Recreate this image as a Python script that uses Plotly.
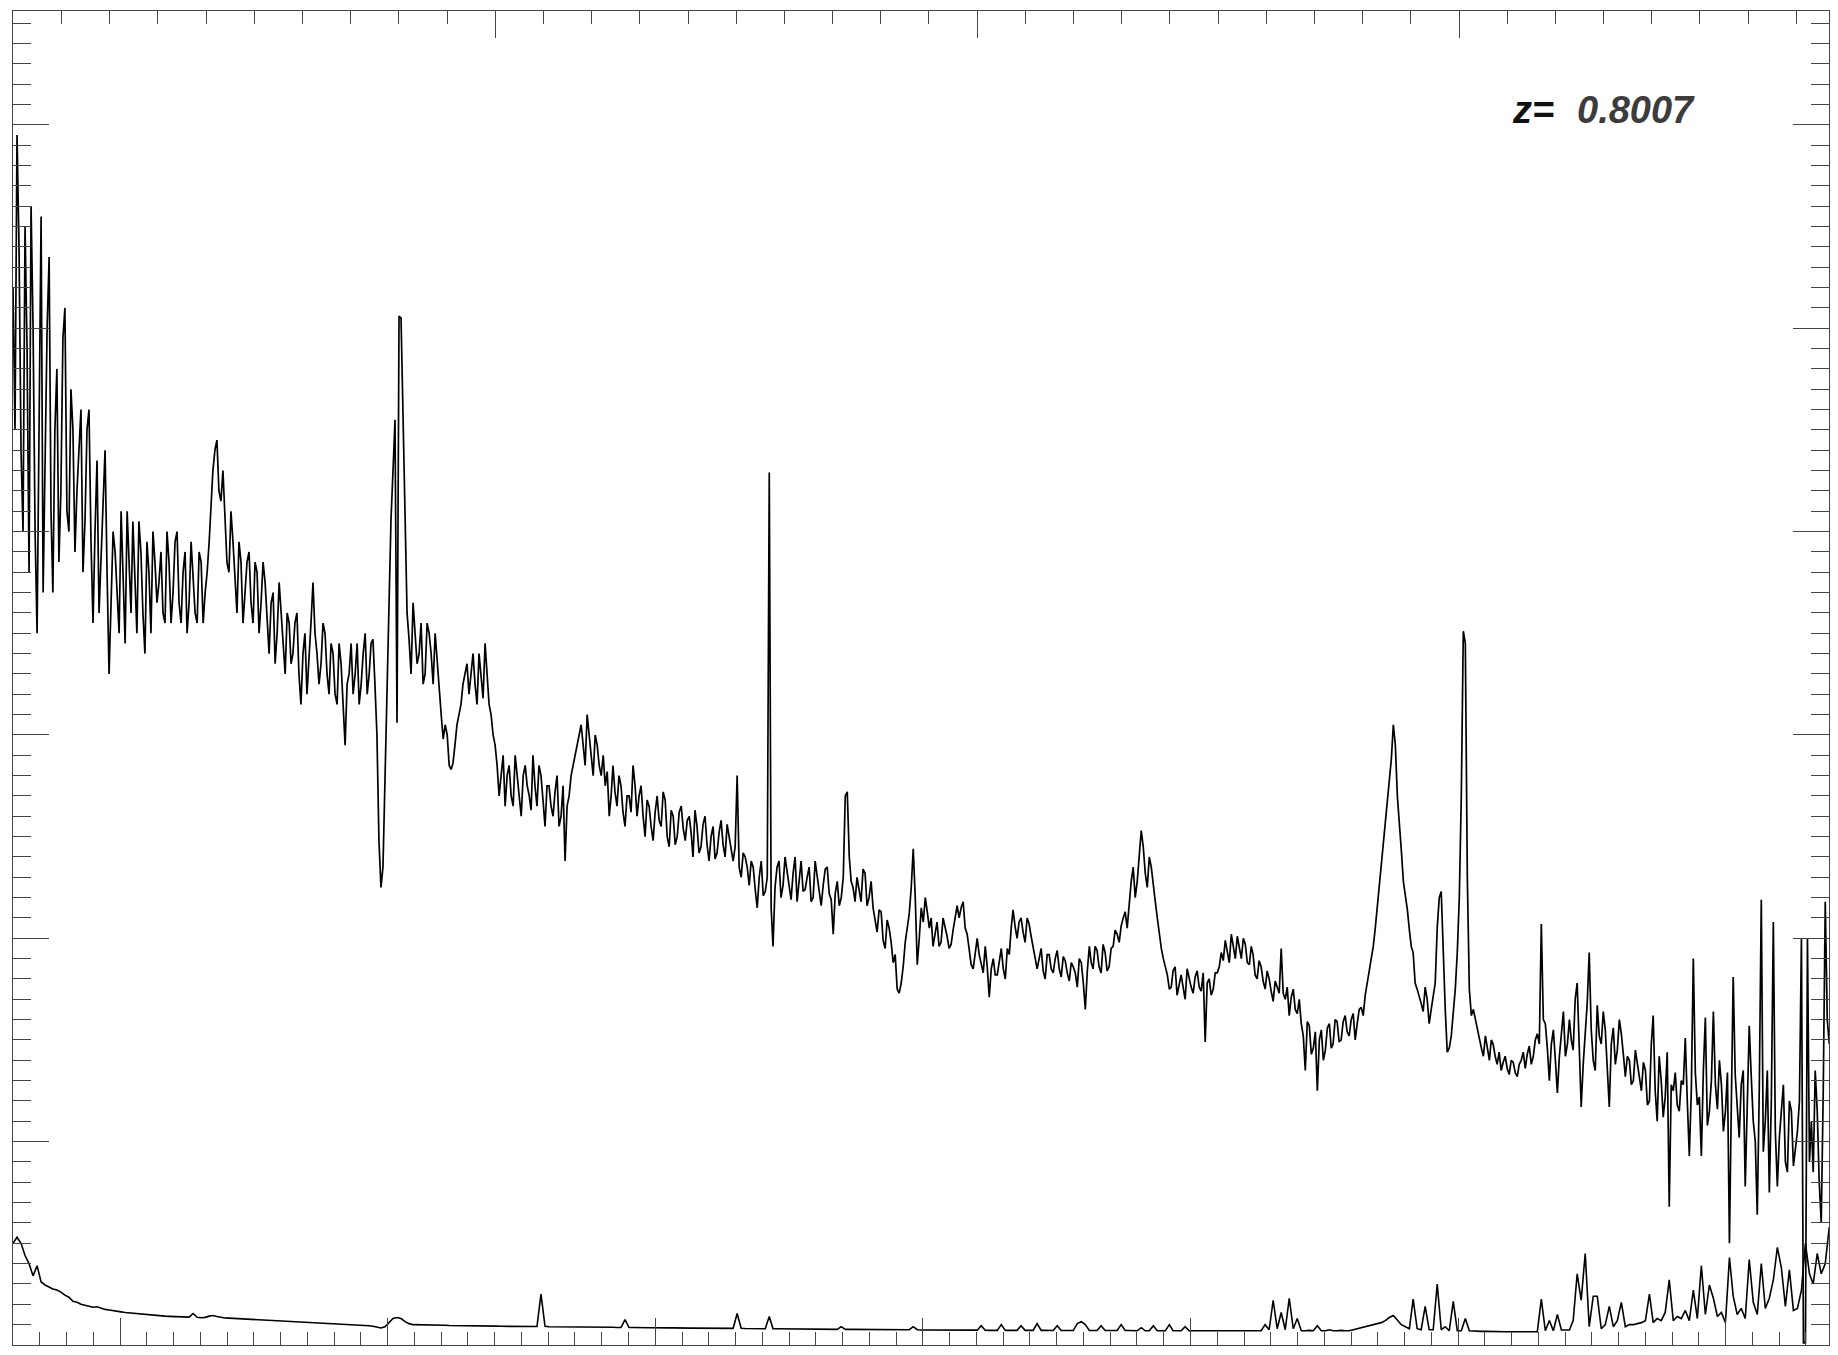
import plotly.graph_objects as go

z = 0.8007

# observed wavelength (Angstrom) of the main samples
lam = [
    3600, 3615, 3630, 3645, 3660, 3675, 3690, 3705, 3720, 3735,
    3749, 3764, 3779, 3794, 3809, 3824, 3839, 3854, 3869, 3884,
    3899, 3914, 3929, 3944, 3959, 3974, 3989, 4004, 4019, 4034,
    4048, 4063, 4078, 4093, 4108, 4123, 4138, 4153, 4168, 4183,
    4198, 4213, 4228, 4243, 4258, 4273, 4288, 4303, 4318, 4333,
    4347, 4362, 4377, 4392, 4407, 4422, 4437, 4452, 4467, 4482,
    4497, 4512, 4527, 4542, 4557, 4572, 4587, 4602, 4617, 4632,
    4646, 4661, 4676, 4691, 4706, 4721, 4736, 4751, 4766, 4781,
    4796, 4811, 4826, 4841, 4856, 4871, 4886, 4901, 4916, 4931,
    4945, 4960, 4975, 4990, 5005, 5020, 5035, 5050, 5065, 5080,
    5095, 5110, 5125, 5140, 5155, 5170, 5185, 5200, 5215, 5230,
    5244, 5259, 5274, 5289, 5304, 5319, 5334, 5349, 5364, 5379,
    5394, 5409, 5424, 5439, 5454, 5469, 5484, 5499, 5514, 5529,
    5543, 5558, 5573, 5588, 5603, 5618, 5633, 5648, 5663, 5678,
    5693, 5708, 5723, 5738, 5753, 5768, 5783, 5798, 5813, 5828,
    5842, 5857, 5872, 5887, 5902, 5917, 5932, 5947, 5962, 5977,
    5992, 6007, 6022, 6037, 6052, 6067, 6082, 6097, 6112, 6127,
    6141, 6156, 6171, 6186, 6201, 6216, 6231, 6246, 6261, 6276,
    6291, 6306, 6321, 6336, 6351, 6366, 6381, 6396, 6411, 6426,
    6440, 6455, 6470, 6485, 6500, 6515, 6530, 6545, 6560, 6575,
    6590, 6605, 6620, 6635, 6650, 6665, 6680, 6695, 6710, 6725,
    6739, 6754, 6769, 6784, 6799, 6814, 6829, 6844, 6859, 6874,
    6889, 6904, 6919, 6934, 6949, 6964, 6979, 6994, 7009, 7024,
    7038, 7053, 7068, 7083, 7098, 7113, 7128, 7143, 7158, 7173,
    7188, 7203, 7218, 7233, 7248, 7263, 7278, 7293, 7308, 7323,
    7337, 7352, 7367, 7382, 7397, 7412, 7427, 7442, 7457, 7472,
    7487, 7502, 7517, 7532, 7547, 7562, 7577, 7592, 7607, 7622,
    7636, 7651, 7666, 7681, 7696, 7711, 7726, 7741, 7756, 7771,
    7786, 7801, 7816, 7831, 7846, 7861, 7876, 7891, 7906, 7921,
    7935, 7950, 7965, 7980, 7995, 8010, 8025, 8040, 8055, 8070,
    8085, 8100, 8115, 8130, 8145, 8160, 8175, 8190, 8205, 8220,
    8234, 8249, 8264, 8279, 8294, 8309, 8324, 8339, 8354, 8369,
    8384, 8399, 8414, 8429, 8444, 8459, 8474, 8489, 8504, 8519,
    8533, 8548, 8563, 8578, 8593, 8608, 8623, 8638, 8653, 8668,
    8683, 8698, 8713, 8728, 8743, 8758, 8773, 8788, 8803, 8818,
    8832, 8847, 8862, 8877, 8892, 8907, 8922, 8937, 8952, 8967,
    8982, 8997, 9012, 9027, 9042, 9057, 9072, 9087, 9102, 9117,
    9131, 9146, 9161, 9176, 9191, 9206, 9221, 9236, 9251, 9266,
    9281, 9296, 9311, 9326, 9341, 9356, 9371, 9386, 9401, 9416,
    9430, 9445, 9460, 9475, 9490, 9505, 9520, 9535, 9550, 9565,
    9580, 9595, 9610, 9625, 9640, 9655, 9670, 9685, 9700, 9715,
    9729, 9744, 9759, 9774, 9789, 9804, 9819, 9834, 9849, 9864,
    9879, 9894, 9909, 9924, 9939, 9954, 9969, 9984, 9999, 10014,
    10028, 10043, 10058, 10073, 10088, 10103, 10118, 10133, 10148, 10163,
    10178, 10193, 10208, 10223, 10238, 10253, 10268, 10283, 10298, 10313,
    10327, 10342, 10357, 10372, 10387,
]

# flux density at the main samples (arbitrary units)
flux = [
    52, 59.5, 44, 55, 38, 50, 35, 55.5, 43, 53.5,
    37, 48, 42, 51, 40, 45, 42, 46, 40.5, 46,
    35.5, 43.5, 39, 44, 33, 40, 37, 41, 34.5, 38.5,
    40.5, 35, 39, 34, 38, 40, 36.5, 39, 35.5, 38.5,
    37, 40, 35.5, 39, 36.5, 38, 35.5, 38.5, 37, 39.5,
    43, 44.5, 41.5, 40.5, 38, 39.5, 36, 38.5, 37, 39,
    35.5, 38, 36.5, 37.5, 34, 37, 35, 36, 33, 35.5,
    34, 36, 31.5, 35, 33.5, 37.5, 34, 33.5, 35, 32,
    34, 31.5, 33.5, 29.5, 33, 32, 34.5, 32.5, 35, 33,
    34.7, 30, 22.5, 27.8, 36.6, 43, 30.6, 50.5, 40.6, 34.7,
    36.5, 33.5, 35.5, 33, 35, 32.5, 33.5, 31, 30.5, 28.5,
    28.6, 30.5, 31.5, 33, 32, 34, 31.5, 33, 34.5, 31.5,
    30, 28.5, 28, 26.5, 28.5, 26.5, 28, 26, 28.5, 27,
    29, 26.5, 28, 25.5, 27.5, 26, 28, 26, 23.8, 27,
    28.5, 29.5, 30.5, 28.5, 30, 28, 29.5, 28, 27.5, 26,
    28.5, 26.5, 27.5, 25.5, 27, 28.5, 26, 27.5, 25, 26.5,
    24.8, 27, 25.5, 26.8, 24.5, 26, 25, 26.5, 24.8, 26,
    24, 25.5, 24.5, 26, 23.8, 25.5, 24.2, 25.8, 24, 25,
    23.8, 28, 23, 24, 22.6, 23.5, 21.5, 23.8, 22.3, 42.9,
    19.6, 23.5, 22, 24, 22.5, 23.2, 21.8, 23.8, 22.4, 23.5,
    22, 23, 21.6, 23.4, 22.2, 20.2, 22.8, 22, 27, 24,
    22.5, 23, 21.8, 23.2, 22, 21.5, 20.3, 21.3, 19.5, 20.5,
    18.8, 17.5, 17.8, 19.8, 21.2, 24.4, 18.7, 21.5, 22, 20.5,
    19.6, 20.8, 19.8, 20.6, 19.5, 20.4, 21.6, 21.5, 20.5, 19.5,
    18.5, 20, 18.8, 19.6, 17.1, 19, 18.2, 19.5, 18, 19.2,
    21.4, 20, 21, 19.8, 20.7, 19.5, 18.5, 19.5, 18, 19.2,
    18.3, 19.4, 18.1, 18.9, 17.9, 18.6, 17.6, 18.8, 16.5, 19.6,
    18.5, 19.4, 18.3, 19.3, 18.6, 19.6, 20.2, 20.6, 21.3, 21.8,
    23.5, 22.8, 25.3, 23.2, 24, 22.5, 21, 19.5, 18.6, 17.5,
    18.4, 17.2, 18.2, 17, 18, 17.3, 18.4, 17.4, 14.9, 18,
    17.5, 18.3, 19.3, 19.9, 18.8, 19.6, 20.1, 19, 19.7, 18.7,
    19.2, 18, 18.6, 17.5, 18, 16.9, 17.6, 19.5, 17, 16.2,
    17.5, 16.3, 15.8, 13.5, 15.7, 14.6, 12.5, 15.5, 14.5, 15.8,
    14.8, 15.9, 15, 16.2, 15.2, 16.3, 15.8, 16.6, 17.2, 18.4,
    19.6, 21.5, 23.5, 25.5, 27.6, 30.5, 27, 24.3, 22.2, 20.4,
    19.3, 17.5, 16.8, 17.6, 15.8, 17.2, 20.5, 22.3, 16.5, 14.6,
    16.2, 19.3, 27, 34.5, 17.5, 16.5, 15.5, 14.6, 15.2, 14,
    14.8, 13.8, 13.5, 14.2, 13.3, 13.9, 13.2, 14, 13.6, 14.7,
    14.2, 15.3, 20.7, 15.8, 13, 15.5, 12.4, 15.5, 14.2, 16,
    14.5, 17.8, 11.7, 15.2, 19.3, 14, 16.7, 14.8, 15.5, 11.7,
    15.6, 14.5, 15.3, 13.2, 14, 13, 13.8, 12.5, 13.5, 12,
    16.2, 11, 13, 12.2, 6.8, 12.5, 11.8, 13, 15.1, 9.3,
    19, 11.8, 9.3, 16.1, 11.5, 16.4, 11.6, 12.8, 11.5, 5,
    18.1, 11.5, 12.8, 7.8, 15.7, 11, 6.4, 21.9, 11, 7.5,
    20.8, 7.8, 11.8, 9, 12, 8.8, 10.5, 20, 0.1, 9,
    8.5, 11.5, 6, 21.8, 14.8,
]

# flux read half-way between consecutive main samples
flux_mid = [
    45, 54, 40, 49, 56, 40, 47, 37, 50, 41,
    45, 38.5, 49.5, 41, 47, 39, 44, 38, 45, 39.5,
    40, 36, 42, 38, 36.5, 39, 35, 38, 41, 36,
    37.5, 40.5, 36, 39.5, 35, 38.5, 37.5, 36, 40, 35.5,
    39.5, 36.5, 38, 35, 39.5, 36, 39, 35.5, 38, 41,
    44, 42, 43, 38.5, 41, 37.5, 39.5, 35.5, 38.5, 36.5,
    38.5, 35, 38.5, 35.5, 36.5, 33.5, 37.5, 34, 36, 33.5,
    35.5, 33, 34, 32, 35.5, 35, 32.5, 35.5, 33, 34.5,
    32, 34.5, 31.5, 32.5, 34.5, 33, 31.5, 34, 32, 34.5,
    32.5, 24.8, 23.5, 31.5, 40.6, 45.5, 50.6, 45.5, 36, 33,
    35, 34, 32.5, 35.5, 34, 35, 32, 29.8, 30, 28.3,
    29.5, 31, 32.5, 33.5, 33, 32.5, 34, 31.8, 33, 31,
    29.5, 27, 29, 28, 27, 29, 27, 28, 27.5, 26.3,
    27.5, 28.5, 26.8, 27.5, 26.5, 27.2, 25.5, 27.5, 26.5, 28,
    29, 30, 29.5, 31, 28.8, 30, 28.5, 29, 28.2, 27,
    27.2, 28, 26.2, 27, 26.2, 27.5, 27, 26, 26.8, 25.5,
    26.2, 25.8, 27.2, 25, 26.3, 24.6, 26.2, 25.4, 25.8, 25.2,
    26.3, 24.2, 25.6, 24.6, 25, 23.9, 25.2, 24.6, 25.6, 24.5,
    24.5, 23.5, 24.2, 23.5, 23.8, 22.4, 23, 22.1, 23, 21.5,
    22.5, 23.8, 22.6, 23.3, 21.9, 24, 22.8, 22.3, 23, 21.8,
    23.8, 22.5, 22.6, 23.5, 21.9, 22.2, 21.6, 23, 27.2, 22.8,
    21.8, 22.4, 23.4, 21.6, 22.8, 20.9, 21.4, 19.9, 20.9, 19.8,
    19.2, 17.3, 18.6, 20.5, 22.5, 22, 20, 20.8, 21.3, 21,
    20.2, 19.6, 21, 20.1, 19.7, 21, 21, 21.8, 20.2, 18.7,
    19.4, 19.2, 18.3, 18.6, 18.5, 18.2, 19, 18.5, 19.5, 20.5,
    20.6, 20.8, 20.3, 21, 20.1, 19, 19, 18.4, 19.2, 18.5,
    19, 18.5, 19.1, 18.3, 18.8, 18.3, 19, 17.8, 18.4, 18.8,
    19.6, 18.6, 19.7, 18.4, 19.5, 20.4, 19.8, 21, 20.5, 22.8,
    22, 24, 24.5, 22.5, 23.5, 21.8, 20.2, 19, 18.2, 17.6,
    18.6, 17.8, 17.6, 18.5, 17.6, 18.1, 17.6, 18.3, 17.8, 17.2,
    18.3, 18.6, 18.9, 19.4, 20.2, 19, 19.5, 20, 18.8, 19.6,
    18.2, 18.9, 17.9, 18.4, 17.4, 17.9, 17.3, 17.3, 17.6, 17.1,
    16.5, 17, 15.2, 15.9, 14.3, 15.4, 15, 14, 15.6, 14.6,
    16, 14.9, 15.9, 15.4, 16, 15, 16.5, 16.2, 17.8, 19,
    20.5, 22.5, 24.5, 26.6, 28.8, 29.5, 25.8, 22.8, 21.4, 19.6,
    17.8, 17.2, 16.4, 17, 16.5, 17.8, 22, 18.8, 14.4, 15.2,
    17.5, 22, 35.1, 23, 16.2, 16, 15, 14.2, 14.6, 15,
    14.2, 14.4, 13.9, 13.6, 14, 13.4, 13.8, 14.4, 14.3, 13.8,
    15, 14.8, 16, 14.6, 14.8, 14, 14.2, 16.4, 14.8, 15,
    17, 14.5, 13.8, 16.8, 15.5, 13.5, 15.2, 16.4, 13.5, 14.8,
    13.8, 16, 14.3, 14.2, 12.8, 14.5, 13, 13.9, 11.8, 14.8,
    12.5, 14.2, 11.2, 14.4, 12.8, 13.4, 11.5, 12.8, 12, 12.5,
    13.4, 12.2, 13.5, 10.8, 13, 12.8, 14, 10.5, 13.4, 11.8,
    13.3, 10.2, 13.5, 12, 13.2, 10, 12.6, 9.5, 13.5, 12,
    10.5, 10.2, 12.8, 8.5, 11.5, 9.8, 12, 0.1, 20, 11,
    13.5, 8, 12.5, 16,
]

# flux error at the main samples (same units)
err = [
    5.0, 5.3, 5.0, 4.4, 4.0, 3.4, 3.9, 3.1, 2.95, 2.85,
    2.75, 2.7, 2.6, 2.45, 2.35, 2.15, 2.1, 2.0, 1.95, 1.88,
    1.86, 1.88, 1.8, 1.75, 1.72, 1.7, 1.66, 1.63, 1.6, 1.58,
    1.57, 1.55, 1.52, 1.5, 1.47, 1.45, 1.44, 1.43, 1.42, 1.41,
    1.4, 1.39, 1.38, 1.38, 1.37, 1.55, 1.36, 1.34, 1.36, 1.42,
    1.45, 1.4, 1.35, 1.33, 1.32, 1.31, 1.3, 1.3, 1.29, 1.28,
    1.27, 1.26, 1.25, 1.24, 1.23, 1.22, 1.2, 1.19, 1.18, 1.17,
    1.16, 1.15, 1.14, 1.13, 1.12, 1.1, 1.1, 1.08, 1.06, 1.05,
    1.04, 1.03, 1.02, 1.01, 1.0, 1.0, 0.98, 0.97, 0.96, 0.95,
    0.92, 0.88, 0.84, 0.9, 1.1, 1.3, 1.35, 1.3, 1.15, 1.05,
    1.0, 1.0, 0.99, 0.99, 0.98, 0.98, 0.97, 0.97, 0.97, 0.96,
    0.96, 0.96, 0.95, 0.95, 0.95, 0.94, 0.94, 0.94, 0.93, 0.93,
    0.93, 0.93, 0.92, 0.92, 0.92, 0.92, 0.92, 0.91, 0.91, 0.91,
    0.91, 0.91, 2.5, 0.92, 0.9, 0.9, 0.9, 0.89, 0.89, 0.89,
    0.89, 0.88, 0.88, 0.88, 0.88, 0.88, 0.87, 0.87, 0.87, 0.87,
    0.87, 0.86, 0.86, 1.25, 0.86, 0.86, 0.85, 0.85, 0.85, 0.85,
    0.85, 0.84, 0.84, 0.84, 0.84, 0.84, 0.83, 0.83, 0.83, 0.83,
    0.83, 0.83, 0.82, 0.82, 0.82, 0.82, 0.82, 0.82, 0.82, 0.82,
    0.82, 1.55, 0.82, 0.81, 0.81, 0.81, 0.81, 0.81, 0.8, 1.4,
    0.8, 0.8, 0.8, 0.79, 0.79, 0.79, 0.79, 0.79, 0.78, 0.78,
    0.78, 0.78, 0.78, 0.78, 0.77, 0.77, 0.77, 0.9, 0.77, 0.77,
    0.77, 0.77, 0.76, 0.76, 0.76, 0.76, 0.76, 0.76, 0.75, 0.75,
    0.75, 0.75, 0.75, 0.75, 0.75, 0.9, 0.75, 0.74, 0.74, 0.74,
    0.74, 0.74, 0.74, 0.74, 0.74, 0.73, 0.73, 0.73, 0.73, 0.73,
    0.73, 0.73, 0.95, 0.73, 0.72, 0.72, 0.72, 1.0, 0.72, 0.72,
    0.72, 0.72, 0.95, 0.72, 0.72, 0.72, 1.05, 0.72, 0.72, 0.72,
    0.71, 0.95, 0.71, 0.71, 0.71, 0.71, 1.05, 1.15, 1.0, 0.71,
    0.71, 0.71, 0.95, 0.71, 0.71, 0.71, 0.71, 1.0, 0.71, 0.71,
    0.71, 0.7, 0.85, 0.7, 0.7, 0.95, 0.7, 0.7, 0.7, 1.0,
    0.7, 0.7, 0.7, 0.9, 0.7, 0.7, 0.7, 0.7, 0.7, 0.7,
    0.7, 0.7, 0.7, 0.7, 0.7, 0.7, 0.7, 0.7, 0.7, 0.7,
    0.7, 0.7, 0.7, 1.0, 0.75, 2.2, 0.8, 1.6, 0.75, 2.3,
    0.8, 1.3, 0.7, 0.7, 0.72, 0.7, 0.95, 0.7, 0.7, 0.75,
    0.7, 0.7, 0.72, 0.7, 0.7, 0.75, 0.8, 0.85, 0.9, 0.95,
    1.0, 1.05, 1.1, 1.2, 1.35, 1.45, 1.2, 1.0, 0.9, 0.8,
    2.26, 0.8, 0.75, 1.9, 0.75, 0.75, 3.0, 0.75, 0.9, 0.7,
    2.15, 0.7, 0.7, 1.3, 0.7, 0.68, 0.68, 0.67, 0.67, 0.66,
    0.66, 0.66, 0.65, 0.65, 0.65, 0.65, 0.65, 0.65, 0.65, 0.65,
    0.65, 0.65, 2.26, 0.7, 1.2, 0.7, 1.5, 0.74, 0.74, 0.74,
    1.2, 3.5, 2.2, 4.5, 0.9, 2.4, 2.4, 0.8, 1.0, 1.9,
    0.9, 1.2, 2.1, 0.9, 1.0, 1.0, 1.05, 1.1, 1.2, 2.5,
    1.1, 1.3, 1.2, 1.6, 3.2, 1.2, 1.4, 1.3, 1.7, 1.2,
    2.7, 1.3, 3.9, 1.5, 2.95, 2.3, 1.4, 1.6, 1.1, 4.3,
    2.4, 1.5, 1.8, 1.3, 4.2, 2.1, 1.5, 4.0, 1.8, 2.3,
    3.2, 4.8, 3.8, 1.9, 3.7, 1.7, 1.8, 2.7, 5.0, 3.5,
    3.0, 4.5, 3.5, 4.0, 5.8,
]

label_z = "z="
label_val = "0.8007"

X_MIN, X_MAX = 3600, 10386
Y_MIN, Y_MAX = 0, 65.6
AX = "#444444"

# interleave the main samples with the half-way readings
lam_all, flux_all = [], []
for i in range(len(lam)):
    lam_all.append(lam[i])
    flux_all.append(flux[i])
    if i < len(flux_mid) and i + 1 < len(lam):
        lam_all.append((lam[i] + lam[i + 1]) / 2)
        flux_all.append(flux_mid[i])

fig = go.Figure()
fig.add_trace(go.Scatter(x=lam_all, y=flux_all, mode="lines",
                         line=dict(color="black", width=1.7),
                         hoverinfo="skip", showlegend=False))
fig.add_trace(go.Scatter(x=lam, y=err, mode="lines",
                         line=dict(color="black", width=1.6),
                         hoverinfo="skip", showlegend=False))
# invisible trace that anchors the rest-frame (top) and right axes
fig.add_trace(go.Scatter(x=[X_MIN / (1 + z)], y=[Y_MIN], xaxis="x2", yaxis="y2",
                         mode="markers", marker=dict(opacity=0),
                         hoverinfo="skip", showlegend=False))


def xax(rng, **kw):
    d = dict(range=rng, showline=True, linecolor=AX, linewidth=1,
             ticks="inside", tickmode="linear", tick0=0, dtick=1000,
             ticklen=27, tickwidth=1, tickcolor=AX,
             showticklabels=False, showgrid=False, zeroline=False,
             minor=dict(ticks="inside", tick0=0, dtick=100, ticklen=13,
                        tickwidth=1, tickcolor=AX, showgrid=False))
    d.update(kw)
    return d


def yax(**kw):
    d = dict(range=[Y_MIN, Y_MAX], showline=True, linecolor=AX, linewidth=1,
             ticks="inside", tickmode="linear", tick0=0, dtick=10,
             ticklen=36, tickwidth=1, tickcolor=AX,
             showticklabels=False, showgrid=False, zeroline=False,
             minor=dict(ticks="inside", tick0=0, dtick=1, ticklen=18,
                        tickwidth=1, tickcolor=AX, showgrid=False))
    d.update(kw)
    return d


fig.update_layout(
    width=1838, height=1355,
    margin=dict(l=13, r=9, t=11, b=10),
    paper_bgcolor="white", plot_bgcolor="white",
    showlegend=False,
    xaxis=xax([X_MIN, X_MAX]),
    xaxis2=xax([X_MIN / (1 + z), X_MAX / (1 + z)], overlaying="x", side="top", anchor="y"),
    yaxis=yax(),
    yaxis2=yax(overlaying="y", side="right", anchor="x"),
    font=dict(family="Liberation Sans, Arial, sans-serif"),
)

fig.add_annotation(x=9194, y=60.75, xref="x", yref="y", text="<b><i>" + label_z + "</i></b>",
                   showarrow=False, xanchor="left", yanchor="middle",
                   font=dict(family="Liberation Sans, Arial, sans-serif", size=38, color="#111111"))
fig.add_annotation(x=9437, y=60.75, xref="x", yref="y", text="<b><i>" + label_val + "</i></b>",
                   showarrow=False, xanchor="left", yanchor="middle",
                   font=dict(family="Liberation Sans, Arial, sans-serif", size=38, color="#3c3c3c"))

fig.write_html("out.html", config={"displayModeBar": False},
               post_script="document.body.style.margin='0px';document.body.style.overflow='hidden';")
